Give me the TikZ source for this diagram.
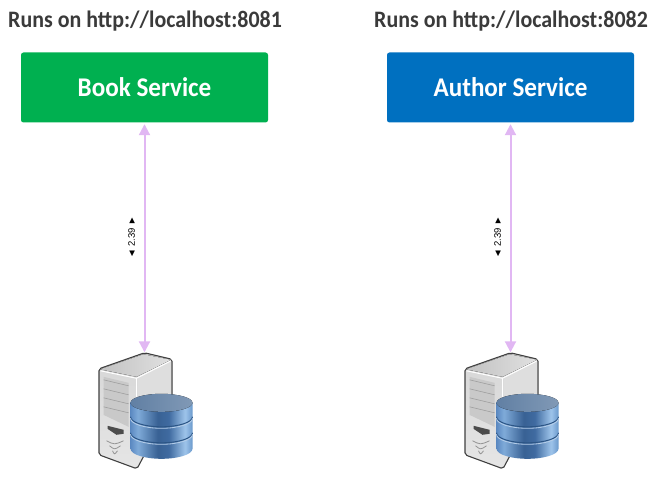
\documentclass[tikz,border=0pt]{standalone}
\usepackage{fontspec}
\setmainfont{Carlito}[FakeStretch=0.93]
\newfontfamily\labelfont{Liberation Sans}
\usetikzlibrary{arrows.meta}
\definecolor{bookgreen}{HTML}{00B050}
\definecolor{authorblue}{HTML}{0070C0}
\definecolor{linkpurple}{HTML}{E1B7F3}
\definecolor{titlegray}{HTML}{3A3A3A}
\definecolor{discrim}{HTML}{2C5585}
\definecolor{discshine}{HTML}{B5CDE8}
\pgfdeclarehorizontalshading{discbody}{100bp}{
  rgb(0bp)=(0.36,0.54,0.76);
  rgb(25bp)=(0.36,0.54,0.76);
  rgb(31bp)=(0.50,0.67,0.85);
  rgb(47bp)=(0.22,0.38,0.58);
  rgb(56bp)=(0.25,0.42,0.63);
  rgb(69bp)=(0.62,0.77,0.92);
  rgb(75bp)=(0.42,0.60,0.80);
  rgb(100bp)=(0.42,0.60,0.80)}
\tikzset{
  service/.style={draw=none,rounded corners=2.5pt,minimum width=247pt,minimum height=70pt,text=white,font=\bfseries\fontsize{27}{28}\selectfont},
  runson/.style={text=titlegray,inner sep=0pt,font=\bfseries\fontsize{23.6}{24}\selectfont},
  hostbox/.style={minimum width=94pt,minimum height=117pt,inner sep=0pt},
  link/.style={draw=linkpurple,line width=2pt,{Triangle[width=11pt,length=11pt]}-{Triangle[width=11pt,length=11pt]},shorten <=1.5pt,shorten >=0.5pt},
  dist/.style={rotate=90,inner sep=0pt,font=\labelfont\fontsize{9.5}{10}\selectfont},
  pics/dbhost/.style={code={
    % tower, origin at the top of the case
    \draw[draw=black!75,line width=1.1pt,top color=black!16,bottom color=black!10,rounded corners=2pt]
      (0,0) -- (27.5,6.5) -- (27.5,50) -- (-7.5,116) -- (-45.5,102) -- (-45.5,16) -- cycle;
    \fill[black!13,rounded corners=1pt] (-7,25) -- (26.5,7.5) -- (26.5,52) -- (-7,52) -- cycle;
    \fill[left color=black!24,right color=black!12] (-44.5,16.5) -- (-1,1.5) -- (26.5,7) -- (-8,24) -- cycle;
    \draw[white,line width=1pt] (-44,18) -- (-8,25.5) -- (26.5,8);
    \draw[white,line width=1pt] (-8,25.5) -- (-8,50);
    \fill[black!21] (-41,24) -- (-16,30) -- (-16,74) -- (-41,62) -- cycle;
    \foreach \yy in {33,42,51,60}
      \draw[black!38,line width=0.6pt] (-41,\yy-6) -- (-16,\yy);
    \fill[black!70] (-37,73) -- (-21,77) -- (-21,81) -- (-28,82) -- (-37,76) -- cycle;
    \foreach \yy/\ww in {88/0,93/3,98/6}
      \draw[black!42,line width=0.8pt] (-38+\ww,\yy) .. controls (-30,\yy+4) .. (-21-\ww,\yy);
    % the three discs
    \shade[shading=discbody]
      (-14,50) -- (-14,96) arc[x radius=31,y radius=10,start angle=180,end angle=0] -- (48,50) -- cycle;
    \foreach \yy in {64,80}{
      \draw[discrim,line width=1pt] (-14,\yy) arc[x radius=31,y radius=10,start angle=180,end angle=0];
      \draw[discshine,line width=0.8pt] (-14,\yy+1.5) arc[x radius=31,y radius=10,start angle=180,end angle=0];
    }
    \fill[left color=discrim!75!white,middle color=discshine!85!discrim,right color=discrim!60!white] (17,50) ellipse[x radius=31,y radius=9];
  }}
}
\begin{document}
\begin{tikzpicture}[x=1pt,y=-1pt]
  \useasboundingbox (0,0) rectangle (656,489);
  \node [service,fill=bookgreen] (book) at (144.5,87.5) {Book Service};
  \node [service,fill=authorblue] (author) at (510.5,87.5) {Author Service};
  \node [runson,anchor=west] (bookurl) at (8,21) {Runs on http://localhost:8081};
  \node [runson,anchor=west] (authorurl) at (374,21) {Runs on http://localhost:8082};
  \node [hostbox] (bookdb) at (144.5,411.5) {};
  \node [hostbox] (authordb) at (510.5,411.5) {};
  \pic at (bookdb.north) {dbhost};
  \pic at (authordb.north) {dbhost};
  \draw [link] (book.south) -- (bookdb.north);
  \draw [link] (author.south) -- (authordb.north);
  \node [dist] (bookdist) at (131.5,237.5) {◄ 2.39 ►};
  \node [dist] (authordist) at (497.5,237.5) {◄ 2.39 ►};
\end{tikzpicture}
\end{document}
